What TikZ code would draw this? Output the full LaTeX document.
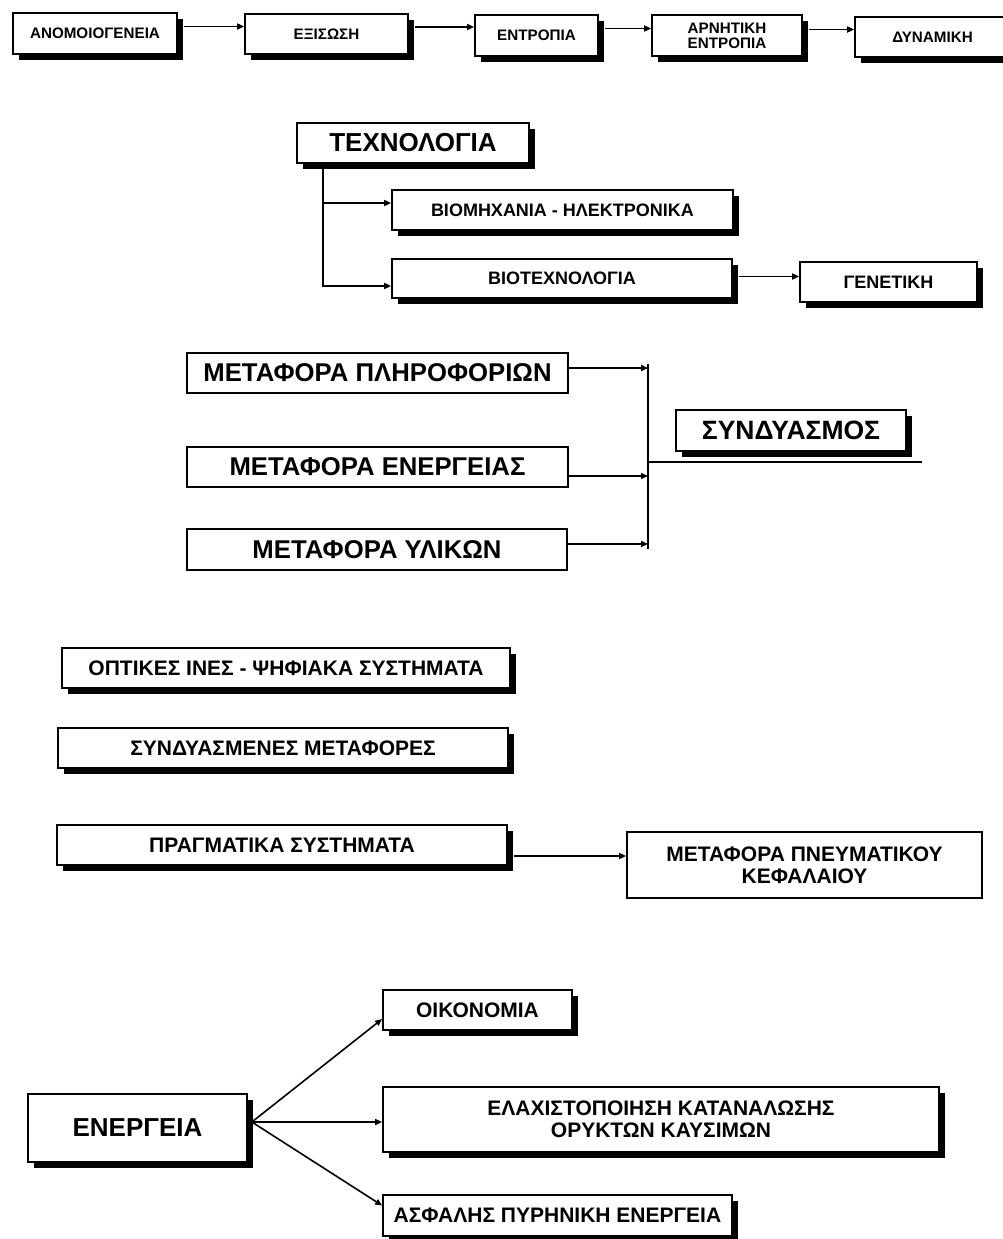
\documentclass[tikz,border=0pt]{standalone}
\usepackage{fontspec}
\setmainfont{Liberation Sans}
\usetikzlibrary{arrows.meta,shadows,calc}
\begin{document}
\begin{tikzpicture}[x=1pt,y=-1pt,
  box/.style={draw, line width=1.7pt, fill=white, inner sep=0pt, align=center},
  sbox/.style={box, general shadow={fill=black, shadow xshift=6pt, shadow yshift=-6pt}},
  arr/.style={line width=1.6pt, -{Triangle[length=7pt,width=6pt]}},
  ln/.style={line width=1.6pt},
  fa/.style={font=\bfseries\fontsize{15.2pt}{15pt}\selectfont},
  fb/.style={font=\bfseries\fontsize{26pt}{28pt}\selectfont},
  fc/.style={font=\bfseries\fontsize{18pt}{20pt}\selectfont},
  fd/.style={font=\bfseries\fontsize{25.7pt}{28pt}\selectfont},
  fs/.style={font=\bfseries\fontsize{26.5pt}{28pt}\selectfont},
  fe/.style={font=\bfseries\fontsize{21pt}{22pt}\selectfont}]
\useasboundingbox[fill=white] (0,0) rectangle (1002,1239);

% top row
\node[sbox, fa, minimum width=164pt, minimum height=41pt] (a1) at (95,33.5) {ΑΝΟΜΟΙΟΓΕΝΕΙΑ};
\node[sbox, fa, minimum width=163pt, minimum height=40pt] (a2) at (326.5,34) {ΕΞΙΣΩΣΗ};
\node[sbox, fa, minimum width=123pt, minimum height=41pt] (a3) at (536.5,35.5) {ΕΝΤΡΟΠΙΑ};
\node[sbox, fa, minimum width=150pt, minimum height=41pt] (a4) at (727,35.5) {ΑΡΝΗΤΙΚΗ\\ΕΝΤΡΟΠΙΑ};
\node[sbox, fa, minimum width=155pt, minimum height=40pt] (a5) at (932.5,37) {ΔΥΝΑΜΙΚΗ};
\draw[arr] ([xshift=6pt,yshift=7pt]a1.east) -- ([yshift=7pt]a1.east -| a2.west);
\draw[arr] ([xshift=6pt,yshift=7pt]a2.east) -- ([yshift=7pt]a2.east -| a3.west);
\draw[arr] ([xshift=6pt,yshift=7pt]a3.east) -- ([yshift=7pt]a3.east -| a4.west);
\draw[arr] ([xshift=6pt,yshift=6pt]a4.east) -- ([yshift=6pt]a4.east -| a5.west);

% technology
\node[sbox, fb, minimum width=232pt, minimum height=40pt] (t0) at (413,143) {ΤΕΧΝΟΛΟΓΙΑ};
\node[sbox, fc, minimum width=341pt, minimum height=40pt] (t1) at (562.5,210) {ΒΙΟΜΗΧΑΝΙΑ - ΗΛΕΚΤΡΟΝΙΚΑ};
\node[sbox, fc, minimum width=340pt, minimum height=39pt] (t2) at (562,278.5) {ΒΙΟΤΕΧΝΟΛΟΓΙΑ};
\node[sbox, fc, minimum width=177pt, minimum height=40pt] (g) at (888.5,282) {ΓΕΝΕΤΙΚΗ};
\draw[arr] ([xshift=-90pt]t0.south) |- ([yshift=7pt]t1.west);
\draw[arr] ([xshift=-90pt]t0.south) |- ([yshift=-7.5pt]t2.west);
\draw[arr] ([xshift=6pt,yshift=2pt]t2.east) -- ([yshift=2pt]t2.east -| g.west);

% transport
\node[box, fd, minimum width=381pt, minimum height=40pt] (m1) at (377.5,373) {ΜΕΤΑΦΟΡΑ ΠΛΗΡΟΦΟΡΙΩΝ};
\node[box, fd, minimum width=381pt, minimum height=40pt] (m2) at (377.5,467) {ΜΕΤΑΦΟΡΑ ΕΝΕΡΓΕΙΑΣ};
\node[box, fd, minimum width=380pt, minimum height=41pt] (m3) at (377,549.5) {ΜΕΤΑΦΟΡΑ ΥΛΙΚΩΝ};
\node[sbox, fs, minimum width=230pt, minimum height=41pt] (s) at (791,430.5) {ΣΥΝΔΥΑΣΜΟΣ};
\coordinate (jt) at (648,364);
\coordinate (jb) at (648,549);
\coordinate (jm) at (648,462);
\coordinate (ue) at (922,462);
\draw[ln] (jt) -- (jb);
\draw[ln] (jm) -- (ue);
\draw[arr] ([yshift=5pt]m1.east) -- ([yshift=5pt]m1.east -| jm);
\draw[arr] ([yshift=-9pt]m2.east) -- ([yshift=-9pt]m2.east -| jm);
\draw[arr] ([yshift=5.5pt]m3.east) -- ([yshift=5.5pt]m3.east -| jm);

% systems
\node[sbox, fe, minimum width=448pt, minimum height=40pt] (o1) at (286,668) {ΟΠΤΙΚΕΣ ΙΝΕΣ - ΨΗΦΙΑΚΑ ΣΥΣΤΗΜΑΤΑ};
\node[sbox, fe, minimum width=450pt, minimum height=40pt] (o2) at (283,748) {ΣΥΝΔΥΑΣΜΕΝΕΣ ΜΕΤΑΦΟΡΕΣ};
\node[sbox, fe, minimum width=450pt, minimum height=40pt] (o3) at (282,845) {ΠΡΑΓΜΑΤΙΚΑ ΣΥΣΤΗΜΑΤΑ};
\node[box, fe, minimum width=355pt, minimum height=66pt] (p) at (804.5,865) {ΜΕΤΑΦΟΡΑ ΠΝΕΥΜΑΤΙΚΟΥ\\ΚΕΦΑΛΑΙΟΥ};
\draw[arr] ([xshift=6pt,yshift=-11pt]o3.east) -- ([yshift=-11pt]o3.east -| p.west);

% energy
\node[sbox, fb, minimum width=219pt, minimum height=68pt] (e) at (137.5,1128) {ΕΝΕΡΓΕΙΑ};
\node[sbox, fe, minimum width=189pt, minimum height=40pt] (k1) at (477.5,1010) {ΟΙΚΟΝΟΜΙΑ};
\node[sbox, fe, minimum width=556pt, minimum height=65pt] (k2) at (661,1119.5) {ΕΛΑΧΙΣΤΟΠΟΙΗΣΗ ΚΑΤΑΝΑΛΩΣΗΣ\\ΟΡΥΚΤΩΝ ΚΑΥΣΙΜΩΝ};
\node[sbox, fe, minimum width=349pt, minimum height=41pt] (k3) at (557.5,1215.5) {ΑΣΦΑΛΗΣ ΠΥΡΗΝΙΚΗ ΕΝΕΡΓΕΙΑ};
\coordinate (eo) at ([xshift=4pt,yshift=6pt]e.east);
\draw[arr] (eo) -- ([yshift=-9pt]k1.west);
\draw[arr] (eo) -- (k2.west |- eo);
\draw[arr] (eo) -- ([yshift=10pt]k3.west);
\end{tikzpicture}
\end{document}
